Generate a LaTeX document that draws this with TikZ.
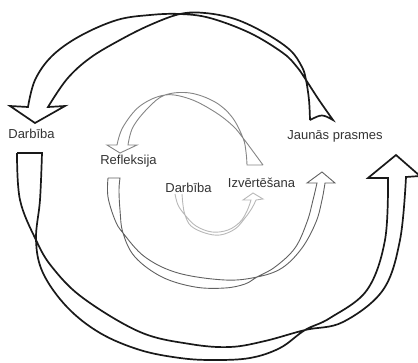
\documentclass[tikz,border=0pt]{standalone}
\usepackage{fontspec}
\setmainfont{Liberation Sans}
\begin{document}
\begin{tikzpicture}[x=1pt,y=-1pt,
  lbl/.style={anchor=base,inner sep=0pt,text=black!80,font=\fontsize{13}{15}\selectfont},
  bigrib/.style={draw=black!90,line width=1.7pt,line join=miter},
  toprib/.style={draw=black!48,line width=0.9pt,line join=miter},
  lowrib/.style={draw=black!62,line width=0.9pt,line join=miter},
  tinyrib/.style={draw=black!28,line width=0.9pt,line join=miter},
  ]
  \useasboundingbox (0,0) rectangle (418,362);
  % labels
  \node[lbl] (darbout) at (31.5,138.5) {Darbība};
  \node[lbl] (jaunas) at (335,139.5) {Jaunās prasmes};
  \node[lbl] (refl) at (128.5,164.5) {Refleksija};
  \node[lbl] (darbin) at (188.5,192) {Darbība};
  \node[lbl] (izv) at (261.5,187) {Izvērtēšana};
  % outer loop, upper part
  \draw[bigrib] plot[smooth,tension=0.6] coordinates {(310,120) (309,100) (306,80) (302,67) (290,50) (265,33) (235,19) (205,13) (180,14) (150,25) (120,40) (90,58) (67,79) (48,107)}
    -- (65,106) -- (35,123) -- (10,106) --
    plot[smooth,tension=0.6] coordinates {(28,107) (35,80) (52,56) (80,36) (117,20) (150,15) (180,14) (210,18) (250,33) (283,53) (297,67) (306,80) (319,100) (333,120)}
    .. controls (322,114) .. (310,120);
  % outer loop, lower part
  \draw[bigrib] plot[smooth,tension=0.6] coordinates {(17,153) (20,200) (36,240) (52,267) (83,298) (140,332) (190,344) (230,347) (265,341) (305,330) (343,322) (383,290) (400,240) (406,177)}
    -- (420,176) -- (396,155) -- (368,178) --
    plot[smooth,tension=0.6] coordinates {(388,178) (385,240) (367,290) (330,318) (305,330) (280,348) (250,358) (213,360) (180,358) (140,350) (100,333) (67,307) (43,273) (36,240) (40,200) (42,153)}
    -- (17,153);
  % middle loop, upper part
  \draw[toprib] plot[smooth,tension=0.6] coordinates {(263,165) (252,150) (243,138) (233,126) (215,112) (190,99) (165,95) (140,106) (123,127) (117,145)}
    -- (107,145) -- (120,153) -- (137,145) --
    plot[smooth,tension=0.6] coordinates {(128,145) (133,127) (148,108) (165,95) (190,93) (215,102) (232,117) (243,138) (246,152) (247,165)}
    -- (263,165);
  % middle loop, lower part
  \draw[lowrib] plot[smooth,tension=0.6] coordinates {(108,178) (108,197) (115,220) (123,233) (145,257) (178,273) (225,280) (257,277) (282,268) (302,248) (316,222) (322,200) (325,183)}
    -- (335,183) -- (322,172) -- (307,183) --
    plot[smooth,tension=0.6] coordinates {(317,183) (313,200) (307,222) (295,248) (275,267) (257,277) (245,284) (225,288) (195,287) (162,277) (135,257) (123,233) (120,210) (119,190) (120,178)}
    -- (108,178);
  % inner turn
  \draw[tinyrib] plot[smooth,tension=0.6] coordinates {(175,194) (178,205) (185,215) (196,226) (212,232) (228,230) (240,222) (247,211) (251,200)}
    -- (243,200) -- (253,193) -- (263,199) --
    plot[smooth,tension=0.6] coordinates {(256,200) (252,208) (245,218) (235,229) (220,235) (205,233) (191,226) (185,215) (183,205) (182,194)};
\end{tikzpicture}
\end{document}
